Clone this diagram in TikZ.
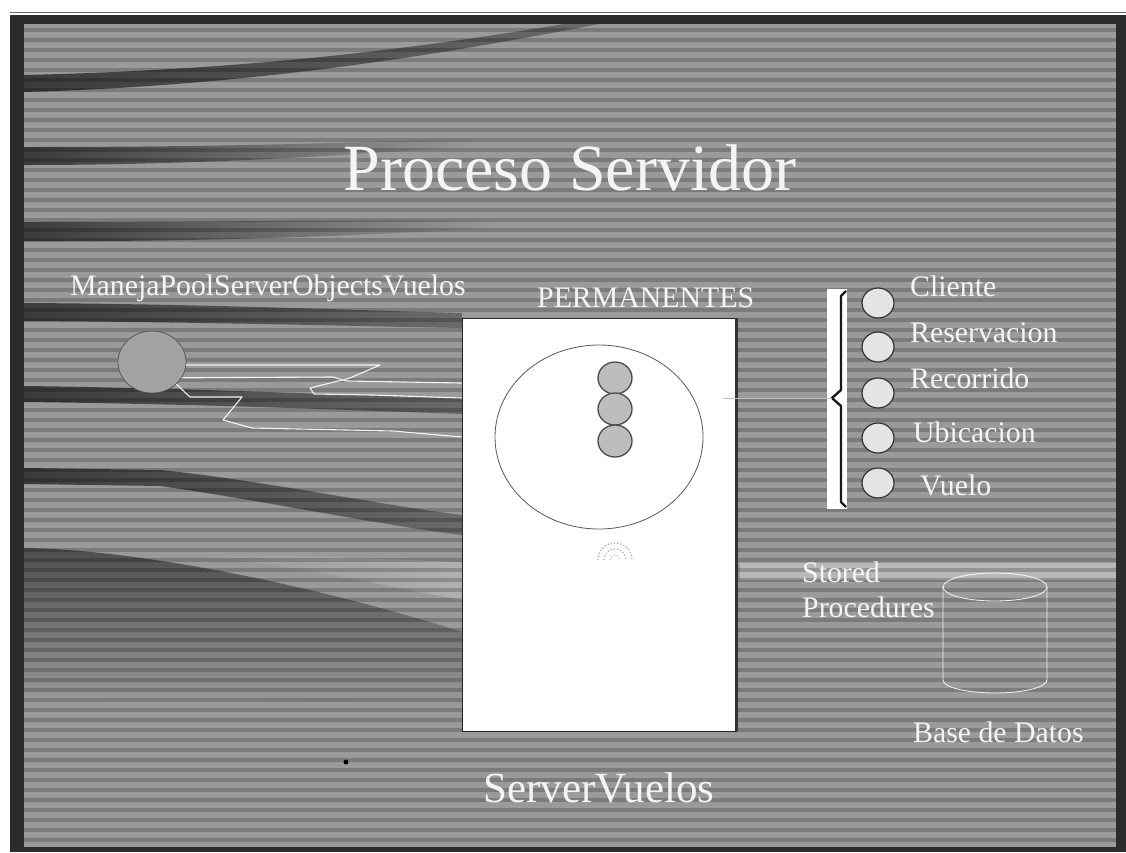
\documentclass[tikz,border=0pt]{standalone}
\usepackage{fontspec}
\setmainfont{Liberation Serif}
\usetikzlibrary{shapes.geometric,fadings}

\definecolor{framedark}{HTML}{2C2C2C}
\definecolor{slidegray}{HTML}{9A9A9A}
\definecolor{banddark}{HTML}{3C3C3C}
\definecolor{labelwhite}{HTML}{F4F4F4}
\definecolor{poolfill}{HTML}{A3A3A3}
\definecolor{instfill}{HTML}{BDBDBD}
\definecolor{entfill}{HTML}{E4E4E4}

\tikzfading[name=fadeR, left color=transparent!0, right color=transparent!100]
\tikzfading[name=fadeL, left color=transparent!100, right color=transparent!0]
\tikzfading[name=fadeRpart, left color=transparent!0, right color=transparent!50]
\tikzfading[name=fadeD, top color=transparent!0, bottom color=transparent!100]

\tikzset{
  lbl/.style={text=labelwhite, font=\fontsize{29.8}{32}\selectfont, inner sep=0pt, anchor=base west},
  titlelbl/.style={text=labelwhite, font=\fontsize{66}{70}\selectfont, inner sep=0pt, anchor=base},
  biglbl/.style={text=labelwhite, font=\fontsize{43}{46}\selectfont, inner sep=0pt, anchor=base west},
  poolobj/.style={ellipse, draw=black!65, fill=poolfill, line width=0.8pt, minimum width=68pt, minimum height=62pt, inner sep=0pt},
  serverbox/.style={rectangle, draw=black!85, fill=white, line width=0.9pt, minimum width=274pt, minimum height=413pt, inner sep=0pt},
  ring/.style={ellipse, draw=black!65, line width=0.8pt, minimum width=208pt, minimum height=184pt, inner sep=0pt},
  inst/.style={ellipse, draw=black!70, fill=instfill, line width=1.3pt, minimum width=34pt, minimum height=32pt, inner sep=0pt},
  ent/.style={ellipse, draw=black!80, fill=entfill, line width=1.2pt, minimum width=32pt, minimum height=30pt, inner sep=0pt},
  barbox/.style={rectangle, fill=white, minimum width=20pt, minimum height=220pt, inner sep=0pt},
  wire/.style={draw=white, line width=1.1pt, opacity=0.9, line join=round},
  tie/.style={draw=black!25, line width=0.9pt},
  band/.style={fill=banddark},
}

\begin{document}
\begin{tikzpicture}[x=1pt,y=-1pt]
\useasboundingbox (0,0) rectangle (1126,852);
\fill[white] (0,0) rectangle (1126,852);

% scanner edge and slide frame
\draw[black!60, line width=1.4pt] (10,12.5) -- (1126,12.5);
\fill[framedark] (10,15) rectangle (1126,852);
\fill[slidegray] (24,24) rectangle (1116,847);

% dark swooshes of the slide background
\fill[band, path fading=fadeRpart] (24,75) .. controls (250,70) and (420,48) .. (565,24) -- (600,24) .. controls (440,55) and (250,86) .. (24,92) -- cycle;
\fill[band, path fading=fadeR] (24,147) .. controls (200,147) and (330,144) .. (480,138) -- (480,146) .. controls (330,156) and (200,165) .. (24,165) -- cycle;
\fill[band, path fading=fadeR] (24,222) .. controls (200,222) and (350,220) .. (500,220) -- (500,228) .. controls (350,236) and (200,242) .. (24,241) -- cycle;
\fill[band, path fading=fadeRpart] (24,303) .. controls (200,304) and (350,310) .. (462,313) -- (462,328) .. controls (350,326) and (200,322) .. (24,321) -- cycle;
\fill[band, path fading=fadeRpart] (24,386) .. controls (200,388) and (350,396) .. (462,398) -- (462,414) .. controls (350,410) and (200,404) .. (24,402) -- cycle;
\fill[band, path fading=fadeRpart] (24,468) -- (160,470) .. controls (260,480) and (380,505) .. (462,515) -- (462,535) .. controls (380,525) and (260,500) .. (160,486) -- (24,484) -- cycle;
\fill[band, opacity=0.8, path fading=fadeD] (24,548) .. controls (150,550) and (330,590) .. (462,632) -- (462,705) -- (24,695) -- cycle;
\fill[white, opacity=0.22, path fading=fadeL] (200,552) .. controls (300,556) and (400,560) .. (462,562) -- (462,600) .. controls (380,585) and (300,566) .. (200,556) -- cycle;
\fill[white, opacity=0.3] (740,563) rectangle (1116,580);

% scan lines
\foreach \y in {28,38,...,842}
  \fill[black, opacity=0.2] (24,\y) rectangle (1116,\y+4);
\fill[black] (346,762) circle (2.5);

% title
\node[titlelbl] (title) at (570,190) {Proceso Servidor};

% pool manager
\node[lbl] (poollbl) at (70,295) {ManejaPoolServerObjectsVuelos};
\node[poolobj] (pool) at (152,362) {};

% server process
\node[serverbox] (server) at (599,524.5) {};
\draw[black!80, line width=2.5pt] (server.north east) -- (server.south east);
\node[lbl] (perm) at (537,307) {PERMANENTES};
\node[ring] (group) at (599,437) {};
\node[inst] (i1) at (615,378) {};
\node[inst] (i2) at (615,409) {};
\node[inst] (i3) at (615,441) {};
\draw[black!35, dotted, line width=1.2pt] (598,560) arc (180:360:17);
\draw[black!30, dotted, line width=1.2pt] (604,560) arc (180:360:11);
\draw[black!25, dotted, line width=1.2pt] (610,560) arc (180:360:5);

% wires from the pool manager to the server
\draw[wire] (pool.-5) -- (380,365) -- (350,378) -- (310,388) -- (314,394) -- (373,395) -- (server.west |- 0,398);
\draw[wire] (pool.-28) -- (333,377) -- (347,381) -- (server.west |- 0,383);
\draw[wire] (pool.south east) -- (190,397) -- (242,397) -- (223,420) -- (252,428) -- (393,431) -- (server.west |- 0,437);

% persistent entity objects
\node[barbox] (bar) at (837,399) {};
\draw[black!90, line width=2.4pt, line join=round] (846,291) -- (841,296) -- (841,390) -- (832,398) -- (841,406) -- (841,502) -- (846,507);
\draw[tie] ([xshift=-13pt]server.east |- 0,398) -- (832,398);

\node[ent] (e1) at (878,303) {};
\node[ent] (e2) at (878,347) {};
\node[ent] (e3) at (878,393) {};
\node[ent] (e4) at (878,438) {};
\node[ent] (e5) at (878,483) {};
\node[lbl] (l1) at (910,296) {Cliente};
\node[lbl] (l2) at (910,342) {Reservacion};
\node[lbl] (l3) at (910,388) {Recorrido};
\node[lbl] (l4) at (913,442) {Ubicacion};
\node[lbl] (l5) at (920,495) {Vuelo};

% database
\node[lbl] (stored) at (802,582) {Stored};
\node[lbl] (procs) at (802,617) {Procedures};
\coordinate (db) at (995,587);
\draw[white, opacity=0.85, line width=0.9pt] (db) ellipse [x radius=52, y radius=14];
\draw[white, opacity=0.85, line width=0.9pt] (943,587) -- (943,680) arc (180:0:52 and 13) -- (1047,587);
\node[lbl] (dblbl) at (913,742) {Base de Datos};

\node[biglbl] (svlbl) at (483,802) {ServerVuelos};
\end{tikzpicture}
\end{document}
